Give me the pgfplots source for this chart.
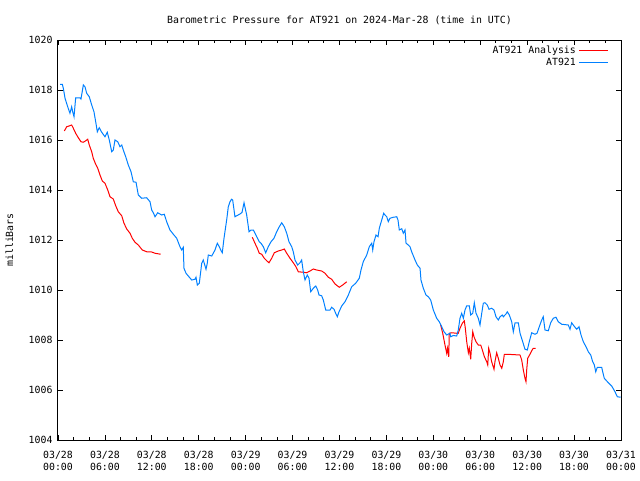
\documentclass[border=0pt]{standalone}
\usepackage{pgfplots}
\pgfplotsset{compat=1.18}
\usepackage{fontspec}
\setmainfont{DejaVu Sans Mono}
\definecolor{atblue}{RGB}{0,128,255}
\definecolor{atred}{RGB}{255,0,0}
\begin{document}
\fontsize{7.4pt}{8.8pt}\selectfont
\begin{tikzpicture}
\path[use as bounding box] (-43.5pt,-30pt) rectangle (436.5pt,330pt);
\begin{axis}[
  scale only axis, width=422.25pt, height=300pt,
  anchor=south west, at={(0pt,0pt)},
  xmin=0, xmax=72, ymin=1004, ymax=1020,
  xtick={0,6,...,72}, minor xtick={0,2,...,72},
  xticklabels={{03/28\\00:00},{03/28\\06:00},{03/28\\12:00},{03/28\\18:00},{03/29\\00:00},{03/29\\06:00},{03/29\\12:00},{03/29\\18:00},{03/30\\00:00},{03/30\\06:00},{03/30\\12:00},{03/30\\18:00},{03/31\\00:00}},
  xticklabel style={align=center, font=\fontsize{7.4pt}{9pt}\selectfont, yshift=-5.5pt},
  ytick={1004,1006,...,1020},
  yticklabel style={font=\fontsize{7.4pt}{8.8pt}\selectfont, xshift=-1.5pt},
  /pgf/number format/assume math mode=true,
  /pgf/number format/1000 sep={},
  tick align=inside, tick pos=both,
  major tick length=4pt, minor tick length=2pt,
  every tick/.style={black, line width=0.6pt},
  axis line style={line width=0.75pt},
  ylabel={milliBars},
  ylabel style={font=\fontsize{7.4pt}{8.8pt}\selectfont, yshift=6.5pt},
  title={Barometric Pressure for AT921 on 2024-Mar-28 (time in UTC)},
  title style={font=\fontsize{7.4pt}{8.8pt}\selectfont, yshift=2.5pt},
  unbounded coords=jump,
  legend style={at={(rel axis cs:1,1)}, anchor=north east, xshift=-6pt, yshift=-0.5pt, draw=none, fill=none, font=\fontsize{7.4pt}{8.8pt}\selectfont, row sep=-2pt},
  legend cell align=right,
  legend plot pos=right,
  legend image code/.code={\draw[#1] (0cm,0cm) -- (0.77cm,0cm);},
]
\addplot[atred, line width=0.75pt] coordinates {
(0.81,1016.36) (1.11,1016.53) (1.41,1016.56) (1.75,1016.6) (1.96,1016.47) (2.26,1016.27) (2.60,1016.09) (2.94,1015.93) (3.24,1015.91) (3.54,1015.97) (3.80,1016.03) (4.00,1015.8) (4.31,1015.53) (4.51,1015.27) (4.82,1015.03) (5.08,1014.87) (5.37,1014.6) (5.67,1014.36) (6.01,1014.27) (6.36,1014.0) (6.65,1013.73) (7.07,1013.64) (7.38,1013.37) (7.71,1013.13) (8.15,1012.97) (8.44,1012.67) (8.79,1012.44) (9.21,1012.27) (9.50,1012.07) (9.85,1011.91) (10.27,1011.8) (10.78,1011.6) (11.34,1011.53) (11.89,1011.53) (12.41,1011.47) (13.13,1011.43)
(13.5,nan)
(24.85,1012.11) (25.19,1011.87) (25.49,1011.67) (25.74,1011.47) (26.05,1011.43) (26.38,1011.27) (26.69,1011.17) (26.98,1011.09) (27.33,1011.27) (27.66,1011.49) (28.17,1011.56) (28.61,1011.6) (28.94,1011.64) (29.25,1011.47) (29.67,1011.27) (30.09,1011.09) (30.43,1010.93) (30.73,1010.73) (31.37,1010.71) (31.80,1010.69) (32.23,1010.76) (32.65,1010.84) (33.08,1010.8) (33.72,1010.76) (34.15,1010.67) (34.57,1010.51) (35.00,1010.43) (35.43,1010.24) (35.97,1010.11) (36.41,1010.2) (36.92,1010.33)
(37.5,nan)
(48.94,1008.6) (49.20,1008.27) (49.49,1007.8) (49.71,1007.47) (49.81,1007.67) (49.97,1007.33) (50.04,1008.27) (50.35,1008.29) (50.99,1008.27) (51.19,1008.27) (51.41,1008.47) (51.71,1008.67) (51.96,1008.77) (52.09,1008.47) (52.27,1007.93) (52.48,1007.49) (52.60,1007.67) (52.78,1007.23) (52.91,1007.87) (53.04,1008.33) (53.20,1008.13) (53.46,1007.93) (53.75,1007.8) (54.06,1007.8) (54.27,1007.6) (54.53,1007.33) (54.83,1007.13) (54.96,1007.0) (55.08,1007.67) (55.25,1007.47) (55.46,1007.13) (55.76,1006.83) (55.88,1007.13) (56.10,1007.49) (56.31,1007.27) (56.53,1007.0) (56.75,1006.87) (56.95,1007.13) (57.08,1007.43) (57.46,1007.43) (59.09,1007.4) (59.30,1007.2) (59.51,1006.8) (59.72,1006.47) (59.85,1006.33) (59.94,1006.8) (60.07,1007.27) (60.36,1007.43) (60.58,1007.57) (60.78,1007.67) (61.09,1007.67)
};
\addlegendentry{AT921 Analysis}
\addplot[atblue, line width=0.75pt] coordinates {
(0.26,1018.23) (0.55,1018.23) (0.68,1018.07) (0.90,1017.67) (1.24,1017.33) (1.53,1017.07) (1.75,1017.33) (1.88,1017.13) (2.05,1016.93) (2.26,1017.69) (2.81,1017.69) (2.94,1017.64) (3.24,1018.2) (3.45,1018.13) (3.67,1017.87) (4.00,1017.73) (4.31,1017.4) (4.60,1017.13) (4.82,1016.73) (5.03,1016.33) (5.28,1016.49) (5.59,1016.31) (6.01,1016.13) (6.30,1016.31) (6.56,1016.0) (6.87,1015.53) (7.07,1015.6) (7.29,1016.0) (7.64,1015.93) (7.93,1015.73) (8.15,1015.8) (8.35,1015.6) (8.66,1015.33) (8.99,1015.0) (9.34,1014.73) (9.63,1014.33) (9.98,1014.31) (10.27,1013.8) (10.70,1013.67) (11.34,1013.69) (11.77,1013.53) (11.98,1013.2) (12.19,1013.09) (12.41,1012.93) (12.75,1013.09) (13.26,1013.0) (13.59,1013.03) (13.90,1012.73) (14.32,1012.4) (14.75,1012.23) (15.18,1012.07) (15.60,1011.73) (15.82,1011.6) (16.02,1011.71) (16.11,1010.87) (16.37,1010.67) (16.66,1010.56) (17.10,1010.4) (17.52,1010.43) (17.65,1010.51) (17.82,1010.2) (18.07,1010.27) (18.25,1010.73) (18.38,1011.07) (18.58,1011.2) (18.93,1010.83) (19.09,1011.07) (19.22,1011.4) (19.66,1011.36) (20.08,1011.6) (20.37,1011.87) (20.63,1011.73) (20.81,1011.6) (21.01,1011.49) (21.23,1012.07) (21.57,1012.8) (21.78,1013.33) (22.00,1013.53) (22.19,1013.63) (22.34,1013.6) (22.63,1012.93) (23.27,1013.04) (23.53,1013.1) (23.79,1013.49) (24.13,1013.0) (24.43,1012.33) (24.68,1012.4) (24.98,1012.4) (25.41,1012.13) (25.74,1011.93) (25.96,1011.87) (26.26,1011.73) (26.56,1011.49) (26.89,1011.73) (27.24,1011.93) (27.62,1012.07) (27.97,1012.33) (28.30,1012.53) (28.61,1012.69) (28.94,1012.53) (29.25,1012.27) (29.54,1011.93) (29.89,1011.73) (30.09,1011.53) (30.31,1011.2) (30.65,1011.0) (30.95,1011.09) (31.16,1011.2) (31.37,1010.73) (31.59,1010.4) (31.88,1010.6) (32.10,1010.47) (32.32,1009.93) (32.65,1010.07) (32.96,1010.16) (33.21,1010.0) (33.38,1009.8) (33.72,1009.77) (33.93,1009.6) (34.24,1009.2) (34.79,1009.2) (35.00,1009.31) (35.30,1009.23) (35.51,1009.07) (35.72,1008.93) (35.94,1009.13) (36.28,1009.36) (36.70,1009.53) (37.13,1009.8) (37.56,1010.13) (38.07,1010.27) (38.53,1010.47) (38.75,1010.8) (39.04,1011.13) (39.48,1011.4) (39.81,1011.73) (40.12,1011.87) (40.25,1011.6) (40.41,1011.93) (40.67,1012.2) (40.93,1012.13) (41.09,1012.47) (41.40,1012.8) (41.65,1013.07) (41.82,1013.0) (42.04,1012.93) (42.24,1012.73) (42.46,1012.87) (42.88,1012.91) (43.32,1012.93) (43.48,1012.8) (43.65,1012.4) (43.96,1012.45) (44.16,1012.27) (44.38,1012.4) (44.51,1011.87) (44.80,1011.8) (45.02,1011.73) (45.23,1011.53) (45.66,1011.2) (45.95,1011.0) (46.30,1010.87) (46.42,1010.4) (46.72,1010.07) (47.06,1009.8) (47.36,1009.73) (47.66,1009.6) (48.00,1009.2) (48.43,1008.87) (48.76,1008.73) (49.07,1008.53) (49.37,1008.33) (49.71,1008.2) (50.13,1008.27) (50.22,1008.13) (50.55,1008.18) (50.99,1008.16) (51.19,1008.4) (51.41,1008.87) (51.63,1009.07) (51.84,1008.87) (52.05,1009.2) (52.27,1009.37) (52.60,1009.37) (52.78,1009.0) (53.04,1009.07) (53.24,1009.49) (53.46,1009.07) (53.75,1008.87) (53.97,1008.6) (54.19,1009.07) (54.39,1009.47) (54.61,1009.49) (54.90,1009.4) (55.12,1009.23) (55.46,1009.27) (55.76,1009.2) (56.01,1008.93) (56.31,1008.8) (56.53,1008.93) (56.82,1009.0) (56.95,1008.93) (57.29,1009.04) (57.46,1009.13) (57.72,1009.0) (58.02,1008.73) (58.23,1008.33) (58.45,1008.69) (58.87,1008.69) (59.09,1008.27) (59.43,1007.93) (59.72,1007.63) (60.02,1007.6) (60.27,1007.93) (60.58,1008.29) (61.00,1008.23) (61.26,1008.27) (61.55,1008.53) (61.86,1008.8) (62.06,1008.93) (62.28,1008.4) (62.70,1008.37) (63.01,1008.69) (63.34,1008.87) (63.68,1008.91) (63.98,1008.73) (64.42,1008.63) (65.26,1008.6) (65.48,1008.43) (65.69,1008.69) (65.99,1008.56) (66.34,1008.43) (66.63,1008.53) (66.89,1008.2) (67.18,1007.93) (67.53,1007.73) (67.82,1007.53) (68.13,1007.4) (68.38,1007.13) (68.59,1007.0) (68.77,1006.73) (68.97,1006.91) (69.53,1006.91) (69.66,1006.73) (69.86,1006.47) (70.38,1006.29) (70.81,1006.16) (71.23,1005.93) (71.53,1005.73) (71.96,1005.71)
};
\addlegendentry{AT921}
\end{axis}
\end{tikzpicture}
\end{document}
